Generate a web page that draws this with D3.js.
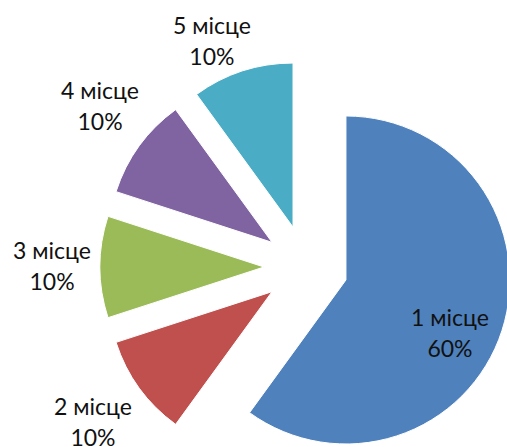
<!DOCTYPE html>
<html>
<head>
<meta charset="utf-8">
<script src="https://cdn.jsdelivr.net/npm/d3@7"></script>
<style>
  html, body { margin: 0; padding: 0; background: #fff; }
  svg { display: block; }
</style>
</head>
<body>
<svg id="chart" width="507" height="447"></svg>
<script>
// ---- data ----
const categories = ["1 місце", "2 місце", "3 місце", "4 місце", "5 місце"];
const values = [60, 10, 10, 10, 10];
const percentLabels = ["60%", "10%", "10%", "10%", "10%"];
const colors = ["#4F81BD", "#C0504D", "#9BBB59", "#8064A2", "#4BACC6"];

// ---- layout ----
const W = 507, H = 447;
const cx = 306, cy = 267;
const radius = 164;
const explode = 42;
const lineGap = 31;
// label placement (degrees clockwise from top, distance from pie centre) for first line baseline
const labelPolar = [[112.3, 155.6], [235.2, 259.4], [271.8, 254.1], [309.2, 265.8], [338.0, 251.2]];

const svg = d3.select("#chart");
const g = svg.append("g").attr("transform", `translate(${cx},${cy})`);

const data = categories.map((c, i) => ({ cat: c, value: values[i], pct: percentLabels[i], color: colors[i], i }));

const pie = d3.pie().value(d => d.value).sort(null).startAngle(0).endAngle(2 * Math.PI);
const arc = d3.arc().innerRadius(0).outerRadius(radius);

const arcs = pie(data);

g.selectAll("path.slice")
  .data(arcs)
  .join("path")
  .attr("class", "slice")
  .attr("d", arc)
  .attr("fill", d => d.data.color)
  .attr("stroke", "#fff")
  .attr("stroke-width", 1)
  .attr("transform", d => {
    const mid = (d.startAngle + d.endAngle) / 2;
    return `translate(${explode * Math.sin(mid)},${-explode * Math.cos(mid)})`;
  });

const labels = g.selectAll("text.lbl")
  .data(arcs)
  .join("text")
  .attr("class", "lbl")
  .attr("text-anchor", "middle")
  .attr("font-family", "Lato, 'Open Sans', sans-serif")
  .attr("font-size", 23)
  .attr("fill", "#111")
  .attr("transform", d => {
    const [ang, r] = labelPolar[d.data.i];
    const a = ang * Math.PI / 180;
    return `translate(${r * Math.sin(a)},${-r * Math.cos(a)})`;
  });

labels.append("tspan").attr("x", 0).attr("y", 0).text(d => d.data.cat);
labels.append("tspan").attr("x", 0).attr("y", lineGap).text(d => d.data.pct);
</script>
</body>
</html>
